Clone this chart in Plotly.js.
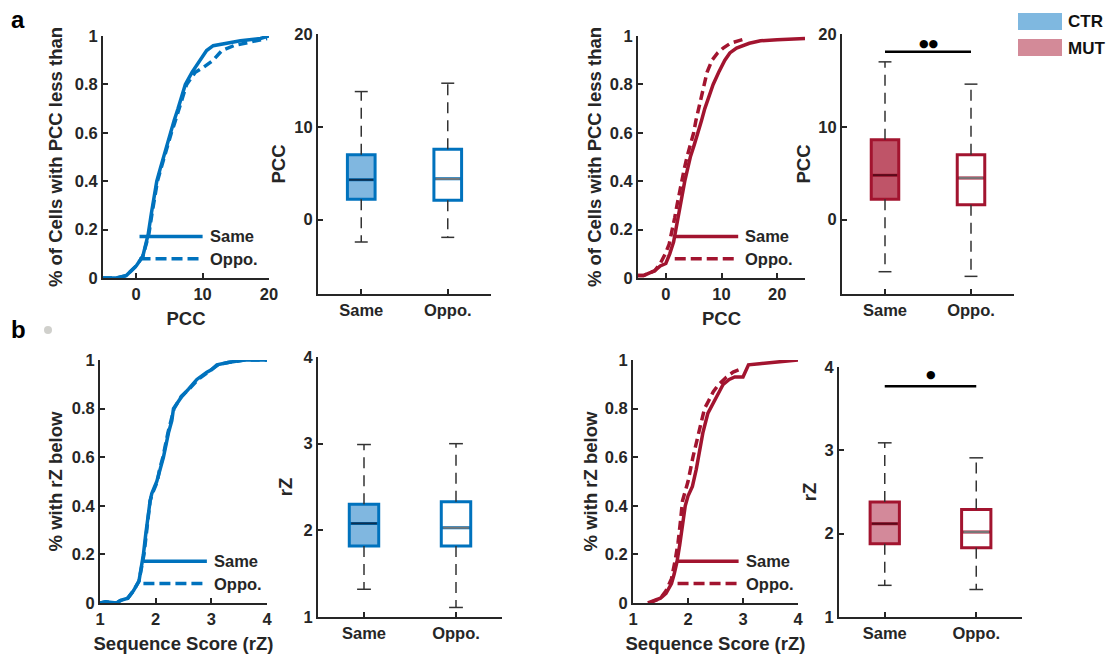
<!DOCTYPE html>
<html>
<head>
<meta charset="utf-8">
<script src="https://cdn.plot.ly/plotly-3.0.1.min.js"></script>
<style>html,body{margin:0;padding:0;background:#fff;}#chart{width:1109px;height:654px;}</style>
</head>
<body>
<div id="chart"></div>
<script>
// ---------------- DATA ----------------
const groupNames = ['CTR', 'MUT'];
const boxCats = ['Same', 'Oppo.'];
const cdfLabels = ['Same', 'Oppo.'];

// Panel a: cumulative PCC
const pccCtrSameX = [-5,-3,-1.5,0,1,1.8,2.3,2.7,3.1,3.6,4.1,4.6,5.1,5.7,6.3,6.9,7.4,8.4,9.6,10.6,11.6,13.6,15.7,18.7,20];
const pccCtrSameY = [0,0,0.01,0.05,0.09,0.18,0.27,0.34,0.4,0.45,0.5,0.55,0.6,0.65,0.7,0.76,0.8,0.85,0.9,0.94,0.96,0.97,0.98,0.99,1.0];
const pccCtrOppoX = [-5,-3,-1.5,0,1,1.9,2.4,2.8,3.2,3.7,4.2,4.7,5.3,5.9,6.5,7.1,7.6,8.9,10.1,11.6,12.9,14.7,17.7,19.7];
const pccCtrOppoY = [0,0,0.01,0.05,0.09,0.18,0.27,0.34,0.4,0.45,0.5,0.55,0.6,0.65,0.7,0.76,0.8,0.85,0.87,0.9,0.94,0.96,0.98,0.99];
const pccMutSameX = [-5,-4,-3,-2,-1,0,0.7,1.4,1.8,2.2,2.5,3.0,3.4,3.9,4.4,5.1,5.8,6.4,7.0,7.7,8.5,9.5,10.6,11.5,12.7,15,17,20,25];
const pccMutSameY = [0.01,0.01,0.02,0.03,0.05,0.06,0.1,0.15,0.2,0.25,0.3,0.35,0.4,0.45,0.5,0.55,0.6,0.65,0.7,0.75,0.8,0.85,0.9,0.93,0.95,0.97,0.98,0.985,0.99];
const pccMutOppoX = [-5,-4,-3,-2,-1,-0.1,0.6,1.2,1.6,2.0,2.4,2.9,3.3,3.8,4.4,5.0,5.4,5.9,6.4,6.9,7.4,8.3,9.3,10.3,11.6,13,14.5,16];
const pccMutOppoY = [0.01,0.01,0.02,0.03,0.06,0.1,0.14,0.2,0.25,0.3,0.35,0.4,0.45,0.5,0.55,0.6,0.65,0.7,0.75,0.8,0.85,0.9,0.93,0.95,0.97,0.98,0.99];

// Panel a: PCC box statistics [Same, Oppo.]
const pccCtrQ1 = [2.2, 2.1], pccCtrMed = [4.3, 4.4], pccCtrQ3 = [7.0, 7.6], pccCtrLo = [-2.4, -1.9], pccCtrHi = [13.8, 14.7];
const pccMutQ1 = [2.2, 1.6], pccMutMed = [4.8, 4.5], pccMutQ3 = [8.6, 7.0], pccMutLo = [-5.6, -6.1], pccMutHi = [17.0, 14.6];

// Panel b: cumulative rZ
const rzCtrSameX = [1,1.1,1.3,1.36,1.5,1.6,1.7,1.75,1.78,1.82,1.86,1.9,1.93,2.02,2.08,2.14,2.23,2.29,2.32,2.47,2.59,2.74,2.92,3.0,3.1,3.3,3.58,4.0];
const rzCtrSameY = [0,0.005,0,0.01,0.02,0.05,0.09,0.15,0.2,0.28,0.36,0.42,0.45,0.5,0.55,0.6,0.7,0.75,0.8,0.85,0.88,0.92,0.95,0.96,0.98,0.99,1.0,1.0];
const rzCtrOppoX = [1,1.1,1.3,1.37,1.5,1.6,1.7,1.75,1.79,1.83,1.87,1.9,1.94,2.03,2.07,2.13,2.22,2.28,2.33,2.46,2.6,2.76,2.93,3.0,3.12,3.3,3.6,4.0];
const rzCtrOppoY = [0,0.005,0,0.01,0.02,0.05,0.09,0.15,0.2,0.28,0.36,0.42,0.45,0.5,0.55,0.6,0.7,0.75,0.8,0.85,0.88,0.92,0.95,0.96,0.98,0.99,1.0,1.0];
const rzMutSameX = [1.27,1.4,1.5,1.6,1.7,1.75,1.8,1.85,1.9,1.95,2.0,2.08,2.15,2.2,2.27,2.36,2.45,2.55,2.64,2.75,2.85,3.0,3.05,3.1,3.3,3.6,4.0];
const rzMutSameY = [0,0.01,0.02,0.04,0.08,0.12,0.17,0.24,0.32,0.4,0.44,0.48,0.55,0.62,0.7,0.78,0.82,0.86,0.9,0.92,0.93,0.93,0.96,0.98,0.985,0.99,1.0];
const rzMutOppoX = [1.3,1.4,1.5,1.6,1.7,1.77,1.82,1.86,1.9,1.95,2.0,2.09,2.17,2.24,2.3,2.37,2.46,2.56,2.7,2.82,2.93];
const rzMutOppoY = [0,0.01,0.02,0.05,0.1,0.18,0.25,0.33,0.42,0.46,0.5,0.6,0.68,0.75,0.8,0.83,0.87,0.9,0.93,0.95,0.96];

// Panel b: rZ box statistics [Same, Oppo.]
const rzCtrQ1 = [1.82, 1.82], rzCtrMed = [2.08, 2.03], rzCtrQ3 = [2.30, 2.33], rzCtrLo = [1.32, 1.11], rzCtrHi = [2.99, 3.0];
const rzMutQ1 = [1.88, 1.83], rzMutMed = [2.12, 2.02], rzMutQ3 = [2.38, 2.29], rzMutLo = [1.38, 1.33], rzMutHi = [3.09, 2.91];

// significance
const sigPccY = 18.1, sigPccMarkY = 19.0, sigPccText = '●●';
const sigRzY = 3.77, sigRzMarkY = 3.91, sigRzText = '●';

// ---------------- STYLE ----------------
const W = 1109, H = 654;
const BLUE = '#0072BD', RED = '#A2142F';
const FONT = 'Liberation Sans, Arial, sans-serif';
const AX = '#262626';
const fx = p => p / W;
const fy = p => 1 - p / H;

const traces = [];
const shapes = [];
const annotations = [];
const layout = {
  width: W, height: H,
  margin: {l: 0, r: 0, t: 0, b: 0},
  paper_bgcolor: '#fff', plot_bgcolor: 'rgba(0,0,0,0)',
  showlegend: false,
  font: {family: FONT, color: AX},
};

function axisBase(extra) {
  return Object.assign({
    showline: true, linecolor: AX, linewidth: 2,
    ticks: 'inside', ticklen: 5, tickwidth: 2, tickcolor: AX,
    showgrid: false, zeroline: false, fixedrange: true,
    tickfont: {family: FONT, size: 16.5, color: AX, weight: 'bold'},
  }, extra);
}
function titleObj(text, standoff) {
  return {text: text, standoff: standoff, font: {family: FONT, size: 18.5, color: AX, weight: 'bold'}};
}

function addCdf(idx, dom, xr, xt, xtitle, ytitle, ystand, xstand, color, sX, sY, oX, oY, leg) {
  const xa = 'xaxis' + (idx === 1 ? '' : idx), ya = 'yaxis' + (idx === 1 ? '' : idx);
  const xr_ = 'x' + (idx === 1 ? '' : idx), yr_ = 'y' + (idx === 1 ? '' : idx);
  layout[xa] = axisBase({domain: [fx(dom[0]), fx(dom[1])], anchor: yr_, range: xr, tickvals: xt,
    title: titleObj(xtitle, xstand)});
  layout[ya] = axisBase({domain: [fy(dom[3]), fy(dom[2])], anchor: xr_, range: [0, 1],
    tickvals: [0, 0.2, 0.4, 0.6, 0.8, 1], ticktext: ['0', '0.2', '0.4', '0.6', '0.8', '1'],
    title: titleObj(ytitle, ystand)});
  traces.push({type: 'scatter', mode: 'lines', x: oX, y: oY, xaxis: xr_, yaxis: yr_,
    line: {color: color, width: 3.5, dash: '9px,5px'}, hoverinfo: 'skip', name: cdfLabels[1]});
  traces.push({type: 'scatter', mode: 'lines', x: sX, y: sY, xaxis: xr_, yaxis: yr_,
    line: {color: color, width: 3.5}, hoverinfo: 'skip', name: cdfLabels[0]});
  // in-axes legend
  const xd = xr_ + ' domain', yd = yr_ + ' domain';
  shapes.push({type: 'line', xref: xd, yref: yd, x0: leg[0], x1: leg[1], y0: 0.172, y1: 0.172,
    line: {color: color, width: 3.5}});
  shapes.push({type: 'line', xref: xd, yref: yd, x0: leg[0], x1: leg[1], y0: 0.08, y1: 0.08,
    line: {color: color, width: 3.5, dash: '11px,5px'}});
  annotations.push({xref: xd, yref: yd, x: leg[1] + 0.03, y: 0.172, xanchor: 'left', yanchor: 'middle',
    text: cdfLabels[0], showarrow: false, font: {family: FONT, size: 16.5, color: AX, weight: 'bold'}});
  annotations.push({xref: xd, yref: yd, x: leg[1] + 0.03, y: 0.08, xanchor: 'left', yanchor: 'middle',
    text: cdfLabels[1], showarrow: false, font: {family: FONT, size: 16.5, color: AX, weight: 'bold'}});
}

function addBox(idx, dom, yr, yt, ytitle, ystand, color, fillSame, medSame, q1, med, q3, lo, hi) {
  const xa = 'xaxis' + idx, ya = 'yaxis' + idx, xr_ = 'x' + idx, yr_ = 'y' + idx;
  layout[xa] = axisBase({domain: [fx(dom[0]), fx(dom[1])], anchor: yr_, range: [0.5, 2.5],
    tickvals: [1, 2], ticktext: boxCats});
  layout[ya] = axisBase({domain: [fy(dom[3]), fy(dom[2])], anchor: xr_, range: yr, tickvals: yt,
    title: titleObj(ytitle, ystand)});
  const pos = [1, 2];
  const halfCap = 0.075, halfMed = 0.14;
  for (let i = 0; i < 2; i++) {
    // whiskers
    traces.push({type: 'scatter', mode: 'lines', xaxis: xr_, yaxis: yr_, hoverinfo: 'skip',
      x: [pos[i], pos[i]], y: [q3[i], hi[i]], line: {color: '#333', width: 1.5, dash: '11px,7px'}});
    traces.push({type: 'scatter', mode: 'lines', xaxis: xr_, yaxis: yr_, hoverinfo: 'skip',
      x: [pos[i], pos[i]], y: [q1[i], lo[i]], line: {color: '#333', width: 1.5, dash: '11px,7px'}});
    // caps
    traces.push({type: 'scatter', mode: 'lines', xaxis: xr_, yaxis: yr_, hoverinfo: 'skip',
      x: [pos[i] - halfCap, pos[i] + halfCap], y: [hi[i], hi[i]], line: {color: '#333', width: 1.5}});
    traces.push({type: 'scatter', mode: 'lines', xaxis: xr_, yaxis: yr_, hoverinfo: 'skip',
      x: [pos[i] - halfCap, pos[i] + halfCap], y: [lo[i], lo[i]], line: {color: '#333', width: 1.5}});
    // box
    traces.push({type: 'box', xaxis: xr_, yaxis: yr_, x: [pos[i]], q1: [q1[i]], median: [med[i]], q3: [q3[i]],
      lowerfence: [q1[i]], upperfence: [q3[i]], width: 0.32, whiskerwidth: 0,
      line: {color: color, width: 3}, fillcolor: i === 0 ? fillSame : '#ffffff',
      boxpoints: false, hoverinfo: 'skip', name: boxCats[i]});
    // median
    traces.push({type: 'scatter', mode: 'lines', xaxis: xr_, yaxis: yr_, hoverinfo: 'skip',
      x: [pos[i] - halfMed, pos[i] + halfMed], y: [med[i], med[i]],
      line: {color: i === 0 ? medSame : '#777777', width: 2}});
  }
}

// ---------------- PANELS ----------------
// dom = [left, right, top, bottom] in pixels
addCdf(1, [103, 269, 36, 278], [-5, 20], [0, 10, 20], 'PCC', '% of Cells with PCC less than', 7, 10, BLUE,
  pccCtrSameX, pccCtrSameY, pccCtrOppoX, pccCtrOppoY, [0.22, 0.60]);
addBox(2, [318, 491, 34, 294], [-8, 20], [0, 10, 20], 'PCC', 4, BLUE, '#80B7E0', '#0F3050',
  pccCtrQ1, pccCtrMed, pccCtrQ3, pccCtrLo, pccCtrHi);
addCdf(3, [638, 805, 36, 278], [-5, 25], [0, 10, 20], 'PCC', '% of Cells with PCC less than', 3, 10, RED,
  pccMutSameX, pccMutSameY, pccMutOppoX, pccMutOppoY, [0.22, 0.60]);
addBox(4, [842, 1014, 34, 294], [-8, 20], [0, 10, 20], 'PCC', 3, RED, '#BF5468', '#5A0A1A',
  pccMutQ1, pccMutMed, pccMutQ3, pccMutLo, pccMutHi);
addCdf(5, [100, 267, 360, 603], [1, 4], [1, 2, 3, 4], 'Sequence Score (rZ)', '% with rZ below', 4, 11, BLUE,
  rzCtrSameX, rzCtrSameY, rzCtrOppoX, rzCtrOppoY, [0.26, 0.64]);
addBox(6, [318, 502, 357, 617], [1, 4], [1, 2, 3, 4], 'rZ', 6, BLUE, '#80B7E0', '#0F3050',
  rzCtrQ1, rzCtrMed, rzCtrQ3, rzCtrLo, rzCtrHi);
addCdf(7, [633, 798, 360, 603], [1, 4], [1, 2, 3, 4], 'Sequence Score (rZ)', '% with rZ below', 2, 11, RED,
  rzMutSameX, rzMutSameY, rzMutOppoX, rzMutOppoY, [0.27, 0.64]);
addBox(8, [839, 1022, 367, 617], [1, 4], [1, 2, 3, 4], 'rZ', 3, RED, '#D3899A', '#5A0A1A',
  rzMutQ1, rzMutMed, rzMutQ3, rzMutLo, rzMutHi);

// significance bars
traces.push({type: 'scatter', mode: 'lines', xaxis: 'x4', yaxis: 'y4', x: [1, 2], y: [sigPccY, sigPccY],
  line: {color: '#000', width: 2.5}, hoverinfo: 'skip'});
annotations.push({xref: 'x4', yref: 'y4', x: 1.5, y: sigPccMarkY, text: sigPccText, showarrow: false,
  font: {family: 'DejaVu Sans', size: 11, color: '#000'}});
traces.push({type: 'scatter', mode: 'lines', xaxis: 'x8', yaxis: 'y8', x: [1, 2], y: [sigRzY, sigRzY],
  line: {color: '#000', width: 2.5}, hoverinfo: 'skip'});
annotations.push({xref: 'x8', yref: 'y8', x: 1.5, y: sigRzMarkY, text: sigRzText, showarrow: false,
  font: {family: 'DejaVu Sans', size: 11, color: '#000'}});

// group legend (top right)
const legColors = ['#7FB8E0', '#D38A98'];
const legTops = [13, 39];
for (let i = 0; i < 2; i++) {
  shapes.push({type: 'rect', xref: 'paper', yref: 'paper', x0: fx(1018), x1: fx(1062),
    y0: fy(legTops[i] + 17), y1: fy(legTops[i]), fillcolor: legColors[i], line: {width: 0}});
  annotations.push({xref: 'paper', yref: 'paper', x: fx(1066), y: fy(legTops[i] + 9), xanchor: 'left', yanchor: 'middle',
    text: groupNames[i], showarrow: false, font: {family: FONT, size: 17, color: '#111', weight: 'bold'}});
}

// panel letters
annotations.push({xref: 'paper', yref: 'paper', x: fx(17.5), y: fy(20), text: 'a', showarrow: false,
  xanchor: 'center', yanchor: 'middle', font: {family: FONT, size: 24, color: '#000', weight: 'bold'}});
annotations.push({xref: 'paper', yref: 'paper', x: fx(18), y: fy(329), text: 'b', showarrow: false,
  xanchor: 'center', yanchor: 'middle', font: {family: FONT, size: 24, color: '#000', weight: 'bold'}});
shapes.push({type: 'circle', xref: 'paper', yref: 'paper', x0: fx(44), x1: fx(52), y0: fy(334), y1: fy(326),
  fillcolor: '#D0D0CC', line: {width: 0}});

layout.shapes = shapes;
layout.annotations = annotations;

Plotly.newPlot('chart', traces, layout, {displayModeBar: false, staticPlot: true});
</script>
</body>
</html>
